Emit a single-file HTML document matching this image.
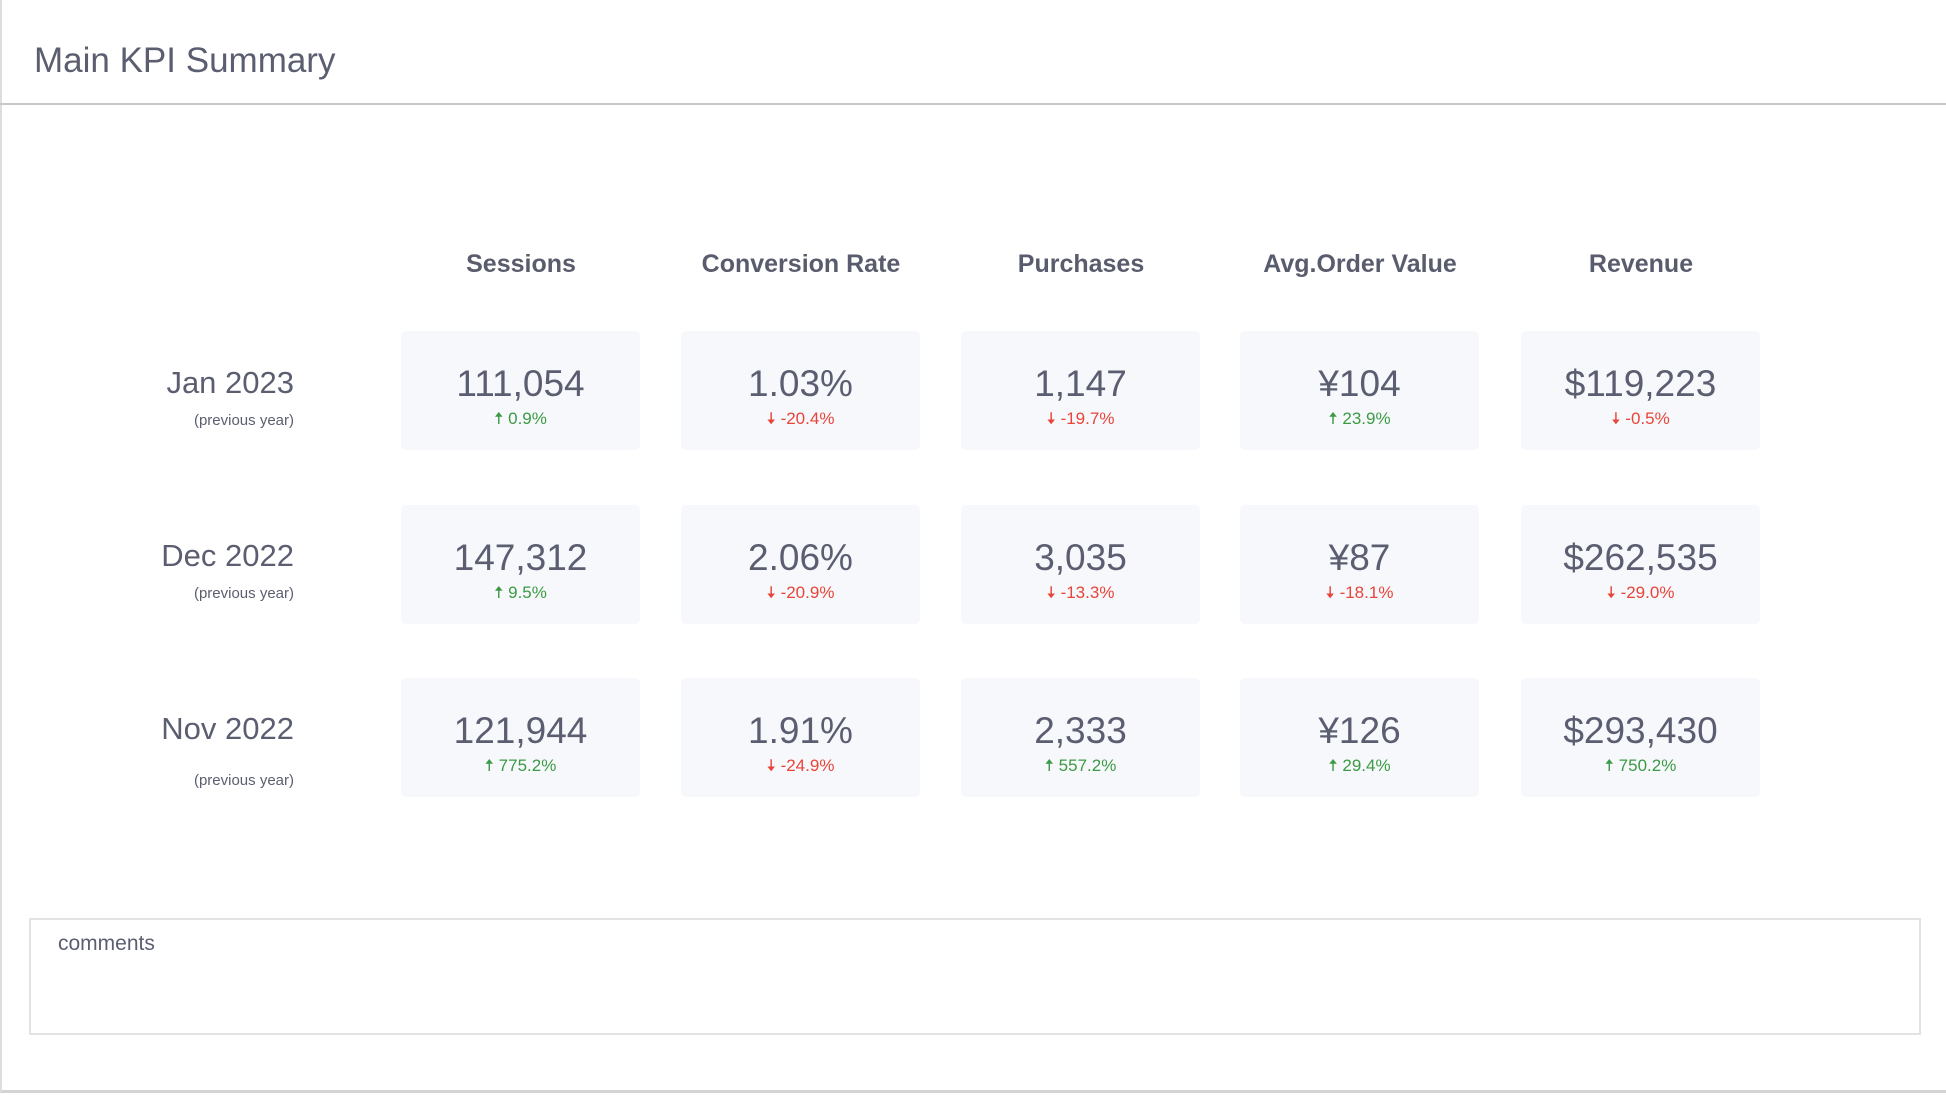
<!DOCTYPE html>
<html><head><meta charset="utf-8"><style>
*{margin:0;padding:0;box-sizing:border-box}
body{width:1946px;height:1096px;background:#fff;font-family:"Liberation Sans",sans-serif;color:#5b5e70;position:relative;overflow:hidden}
.frame{position:absolute;left:0;top:0;width:1946px;height:1093px;border-left:2px solid #ddd;border-bottom:3px solid #d4d4d4}
.title{position:absolute;left:34px;top:41px;font-size:35px;color:#5b5e70}
.hline{position:absolute;left:0;top:103px;width:1946px;height:2px;background:#c8c8c8}
.hdr{position:absolute;top:250px;width:280px;text-align:center;font-size:25px;font-weight:bold;color:#595c6c}
.lbl{position:absolute;right:1652px;font-size:31px;text-align:right;white-space:nowrap}
.sub{position:absolute;right:1652px;font-size:15px;white-space:nowrap}
.card{position:absolute;width:239px;height:119px;background:#f7f8fb;border-radius:5px;text-align:center}
.v{font-size:37px;margin-top:33px;line-height:40px;color:#5b5e70}
.c{font-size:17px;margin-top:2px}
.g{color:#3c9a44}.r{color:#e8443a}
.cm{position:absolute;left:29px;top:918px;width:1892px;height:117px;border:2px solid #e3e3e3}
.cm span{position:absolute;left:27px;top:12px;font-size:21px;color:#5b5e70}
</style></head><body>
<div class="frame"></div>
<div class="title">Main KPI Summary</div>
<div class="hline"></div>
<div class="hdr" style="left:381px">Sessions</div>
<div class="hdr" style="left:661px">Conversion Rate</div>
<div class="hdr" style="left:941px">Purchases</div>
<div class="hdr" style="left:1220px">Avg.Order Value</div>
<div class="hdr" style="left:1501px">Revenue</div>

<div class="lbl" style="top:365px">Jan 2023</div><div class="sub" style="top:412px">(previous year)</div>
<div class="lbl" style="top:538px">Dec 2022</div><div class="sub" style="top:585px">(previous year)</div>
<div class="lbl" style="top:711px">Nov 2022</div><div class="sub" style="top:772px">(previous year)</div>

<div class="card" style="left:401px;top:331px"><div class="v">111,054</div><div class="c g">🠅 0.9%</div></div>
<div class="card" style="left:681px;top:331px"><div class="v">1.03%</div><div class="c r">🠇 -20.4%</div></div>
<div class="card" style="left:961px;top:331px"><div class="v">1,147</div><div class="c r">🠇 -19.7%</div></div>
<div class="card" style="left:1240px;top:331px"><div class="v">¥104</div><div class="c g">🠅 23.9%</div></div>
<div class="card" style="left:1521px;top:331px"><div class="v">$119,223</div><div class="c r">🠇 -0.5%</div></div>

<div class="card" style="left:401px;top:505px"><div class="v">147,312</div><div class="c g">🠅 9.5%</div></div>
<div class="card" style="left:681px;top:505px"><div class="v">2.06%</div><div class="c r">🠇 -20.9%</div></div>
<div class="card" style="left:961px;top:505px"><div class="v">3,035</div><div class="c r">🠇 -13.3%</div></div>
<div class="card" style="left:1240px;top:505px"><div class="v">¥87</div><div class="c r">🠇 -18.1%</div></div>
<div class="card" style="left:1521px;top:505px"><div class="v">$262,535</div><div class="c r">🠇 -29.0%</div></div>

<div class="card" style="left:401px;top:678px"><div class="v">121,944</div><div class="c g">🠅 775.2%</div></div>
<div class="card" style="left:681px;top:678px"><div class="v">1.91%</div><div class="c r">🠇 -24.9%</div></div>
<div class="card" style="left:961px;top:678px"><div class="v">2,333</div><div class="c g">🠅 557.2%</div></div>
<div class="card" style="left:1240px;top:678px"><div class="v">¥126</div><div class="c g">🠅 29.4%</div></div>
<div class="card" style="left:1521px;top:678px"><div class="v">$293,430</div><div class="c g">🠅 750.2%</div></div>

<div class="cm"><span>comments</span></div>
</body></html>
